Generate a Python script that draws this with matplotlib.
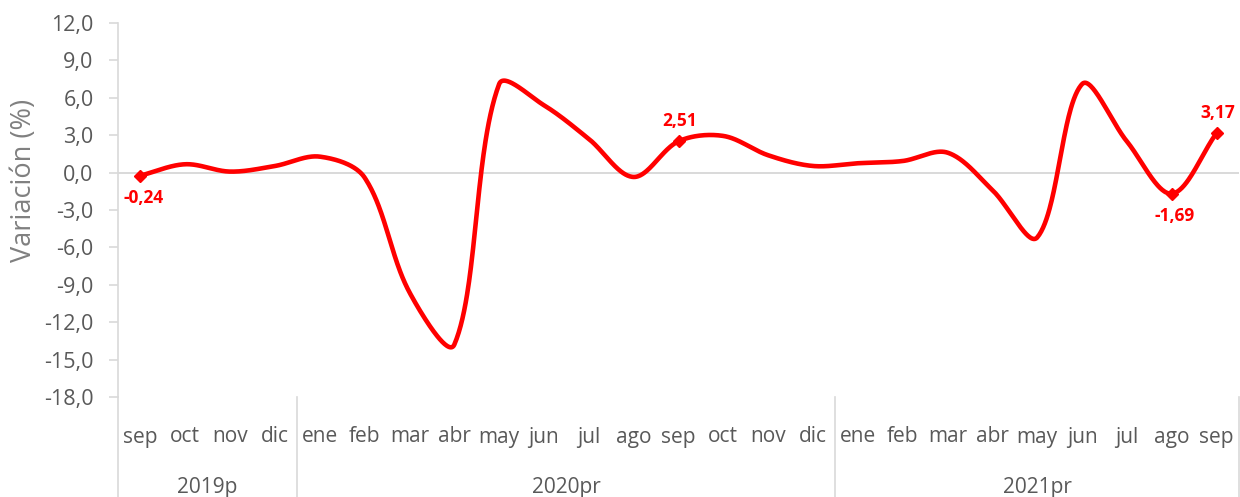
import numpy as np
import matplotlib
matplotlib.use('Agg')
import matplotlib.pyplot as plt
from matplotlib.lines import Line2D

# ---- data ----
months = ['sep', 'oct', 'nov', 'dic',
          'ene', 'feb', 'mar', 'abr', 'may', 'jun', 'jul', 'ago', 'sep', 'oct', 'nov', 'dic',
          'ene', 'feb', 'mar', 'abr', 'may', 'jun', 'jul', 'ago', 'sep']
values = [-0.24, 0.67, 0.08, 0.53,
          1.28, -0.40, -9.6, -13.8, 7.1, 5.4, 2.7, -0.35, 2.51, 2.94, 1.39, 0.53,
          0.75, 0.93, 1.6, -1.4, -5.2, 7.1, 2.5, -1.69, 3.17]
years = ['2019p', '2020pr', '2021pr']
year_counts = [4, 12, 9]
labeled_idx = [0, 12, 23, 24]
label_above = [False, True, False, True]
yticks = [-18, -15, -12, -9, -6, -3, 0, 3, 6, 9, 12]

FONT = 'Open Sans'
plt.rcParams['font.family'] = [FONT, 'DejaVu Sans']

W, H = 1240, 497
L, R, T, B = 118, 1239, 23, 397
YMIN, YMAX = -18, 12
XPX = (R - L) / len(values)          # pixels per category
YPX = (B - T) / (YMAX - YMIN)        # pixels per unit


def smooth(xs, ys, n=60):
    """Excel-like smoothed line (Bezier with distance-weighted tangents)."""
    xs = np.asarray(xs, float); ys = np.asarray(ys, float)
    P = np.column_stack([xs * XPX, ys * YPX])   # work in pixel space
    out = []
    N = len(P)
    for i in range(N - 1):
        p0 = P[i - 1] if i > 0 else P[i]
        p1 = P[i]
        p2 = P[i + 1]
        p3 = P[i + 2] if i + 2 < N else P[i + 1]
        d01 = np.hypot(*(p1 - p0)); d12 = np.hypot(*(p2 - p1)); d23 = np.hypot(*(p3 - p2))
        f1 = d12 / (d01 + d12) / 3.0 if (d01 + d12) > 0 else 0
        f2 = d12 / (d12 + d23) / 3.0 if (d12 + d23) > 0 else 0
        c1 = p1 + (p2 - p0) * f1
        c2 = p2 - (p3 - p1) * f2
        t = np.linspace(0, 1, n, endpoint=(i == N - 2))[:, None]
        seg = ((1 - t) ** 3) * p1 + 3 * ((1 - t) ** 2) * t * c1 + 3 * (1 - t) * t ** 2 * c2 + t ** 3 * p2
        out.append(seg)
    out = np.vstack(out)
    return out[:, 0] / XPX, out[:, 1] / YPX


fig = plt.figure(figsize=(W / 100, H / 100), dpi=100)
ax = fig.add_axes([L / W, (H - B) / H, (R - L) / W, (B - T) / H])

x = np.arange(len(values))
sx, sy = smooth(x, values)
ax.axhline(0, color='#D9D9D9', lw=1.4, zorder=1)
ax.plot(sx, sy, color='#FF0000', lw=3.3, solid_capstyle='round', solid_joinstyle='round', zorder=3)
ax.plot(x[labeled_idx], np.asarray(values)[labeled_idx], linestyle='none', marker='D',
        ms=6, color='#FF0000', zorder=4)

for i, above in zip(labeled_idx, label_above):
    txt = ('%.2f' % values[i]).replace('.', ',')
    ax.annotate(txt, (x[i], values[i]), xytext=(1, 14.5) if above else (2, -16),
                textcoords='offset points',
                ha='center', va='center', color='#FF0000', fontsize=12.5, fontweight='bold')

ax.set_xlim(-0.5, len(values) - 0.5)
ax.set_ylim(YMIN, YMAX)
ax.set_yticks(yticks)
ax.set_yticklabels([('%.1f' % v).replace('.', ',') for v in yticks])
ax.tick_params(axis='y', length=6.5, width=1.2, color='#D9D9D9', labelsize=15.5, labelcolor='#595959', pad=11)
ax.set_xticks([])
for s in ['top', 'right', 'bottom']:
    ax.spines[s].set_visible(False)
ax.spines['left'].set_color('#D9D9D9')
ax.spines['left'].set_linewidth(1.2)

tr = ax.get_xaxis_transform()
yb = -(H - B) / (B - T)
# month labels
for i, m in enumerate(months):
    ax.text(i, -(437 - B) / (B - T), m, transform=tr, ha='center', va='center',
            fontsize=15, color='#595959')
# separators and year labels
bounds = np.concatenate([[0], np.cumsum(year_counts)]) - 0.5
for b in bounds:
    ax.add_line(Line2D([b, b], [0, yb], transform=tr, color='#D9D9D9', lw=1.2, clip_on=False))
for yname, a, bnd in zip(years, bounds[:-1], bounds[1:]):
    ax.text((a + bnd) / 2, -(488 - B) / (B - T), yname, transform=tr, ha='center', va='center',
            fontsize=15, color='#595959')

fig.text(24 / W, 1 - 180 / H, 'Variación (%)', rotation=90, ha='center', va='center',
         fontsize=19.5, color='#808080')

fig.savefig('out.png', dpi=100)
